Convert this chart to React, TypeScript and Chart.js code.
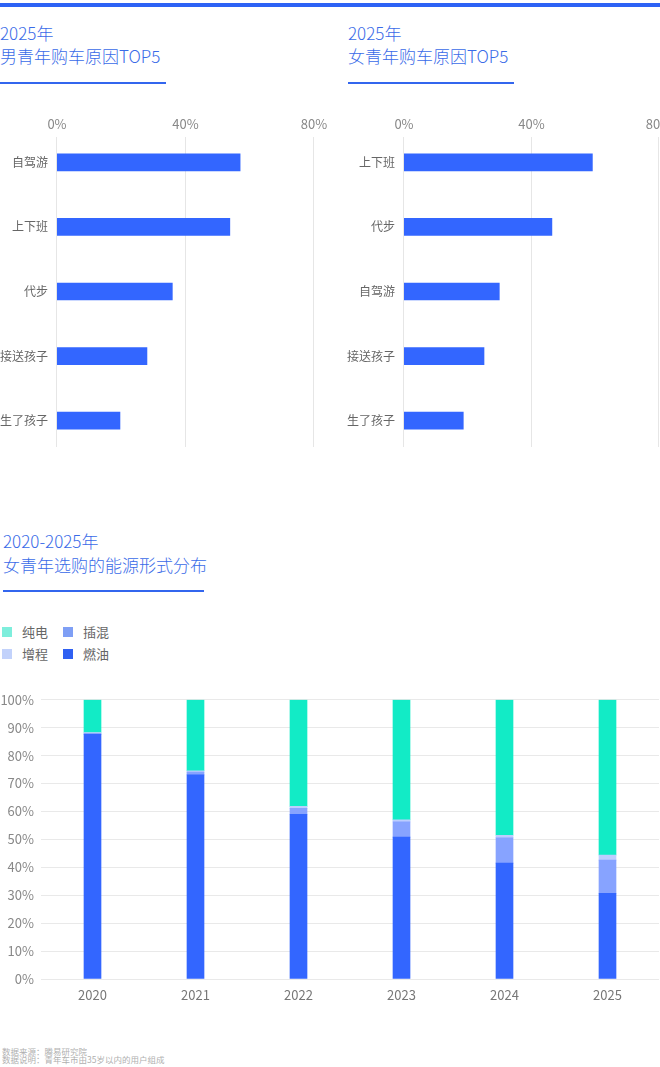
import React, { useEffect, useRef } from "react";
import { Chart, registerables } from "chart.js";

Chart.register(...registerables);

const FONT = '"Noto Sans CJK SC", "Noto Sans", sans-serif';

const maleReasons = ["自驾游", "上下班", "代步", "接送孩子", "生了孩子"];
const maleValues = [57.0, 53.8, 35.9, 28.0, 19.6];
const femaleReasons = ["上下班", "代步", "自驾游", "接送孩子", "生了孩子"];
const femaleValues = [59.1, 46.4, 29.9, 25.1, 18.6];

const years = ["2020", "2021", "2022", "2023", "2024", "2025"];
const fuelValues = [87.6, 73.1, 59.0, 50.8, 41.5, 30.7];
const phevValues = [0.4, 1.0, 2.1, 5.5, 9.1, 11.9];
const erevValues = [0.3, 0.5, 0.7, 0.7, 0.9, 1.8];
const bevValues = [11.7, 25.4, 38.2, 43.0, 48.5, 55.6];

const BLUE = "#3366ff";
const TEAL = "#12ebc6";
const PHEV = "#87a3ff";
const EREV = "#bccdff";
const TITLE_COLOR = "#3a6be8";

const vGridPlugin = {
  id: "vGrid",
  beforeDatasetsDraw(chart: any) {
    const x = chart.scales.x;
    const { top, bottom } = chart.chartArea;
    const ctx = chart.ctx;
    ctx.save();
    ctx.strokeStyle = "#e6e6e6";
    ctx.lineWidth = 1;
    x.ticks.forEach((t: any) => {
      const px = Math.round(x.getPixelForValue(t.value)) - 0.5;
      ctx.beginPath();
      ctx.moveTo(px, top + 7);
      ctx.lineTo(px, bottom - 6);
      ctx.stroke();
    });
    ctx.restore();
  },
};

function HBar({ labels, values, yWidth, padRight }: { labels: string[]; values: number[]; yWidth: number; padRight: number }) {
  const ref = useRef<HTMLCanvasElement>(null);
  useEffect(() => {
    const chart = new Chart(ref.current as HTMLCanvasElement, {
      type: "bar",
      data: {
        labels,
        datasets: [{ data: values, backgroundColor: BLUE, barThickness: 17, borderWidth: 0 }],
      },
      options: {
        indexAxis: "y",
        responsive: false,
        animation: false,
        layout: { padding: { top: 0, right: padRight, bottom: 7, left: 0 } },
        plugins: { legend: { display: false }, tooltip: { enabled: false } },
        scales: {
          x: {
            type: "linear",
            position: "top",
            min: 0,
            max: 80,
            grid: { display: false, drawTicks: false },
            border: { display: false },
            ticks: {
              stepSize: 40,
              padding: -2,
              color: "#888",
              font: { family: FONT, size: 13 },
              callback: (v: any) => v + "%",
            },
            afterFit: (s: any) => {
              s.height = 30;
              s.paddingLeft = 0;
              s.paddingRight = 0;
            },
          },
          y: {
            type: "category",
            grid: { display: false, drawTicks: false },
            border: { display: false },
            ticks: { padding: 9, color: "#666", font: { family: FONT, size: 12 } },
            afterFit: (s: any) => {
              s.width = yWidth;
              s.paddingTop = 0;
              s.paddingBottom = 0;
            },
          },
        },
      } as any,
      plugins: [vGridPlugin],
    });
    return () => chart.destroy();
  }, []);
  return <canvas ref={ref} width={330} height={360} />;
}

function StackedChart() {
  const ref = useRef<HTMLCanvasElement>(null);
  useEffect(() => {
    const chart = new Chart(ref.current as HTMLCanvasElement, {
      type: "bar",
      data: {
        labels: years,
        datasets: [
          { label: "燃油", data: fuelValues, backgroundColor: BLUE, barThickness: 17 },
          { label: "插混", data: phevValues, backgroundColor: PHEV, barThickness: 17 },
          { label: "增程", data: erevValues, backgroundColor: EREV, barThickness: 17 },
          { label: "纯电", data: bevValues, backgroundColor: TEAL, barThickness: 17 },
        ],
      },
      options: {
        responsive: false,
        animation: false,
        layout: { padding: { top: 13, right: 1, bottom: 0, left: 0 } },
        plugins: { legend: { display: false }, tooltip: { enabled: false } },
        scales: {
          x: {
            stacked: true,
            grid: { display: false, drawTicks: false },
            border: { display: false },
            ticks: { padding: 8, color: "#777", font: { family: FONT, size: 13 } },
            afterFit: (s: any) => {
              s.height = 31;
            },
          },
          y: {
            stacked: true,
            min: 0,
            max: 100,
            grid: { color: "#e9e9e9", drawTicks: false },
            border: { display: false },
            ticks: {
              stepSize: 10,
              padding: 7,
              color: "#888",
              font: { family: FONT, size: 13 },
              callback: (v: any) => v + "%",
            },
            afterFit: (s: any) => {
              s.width = 41;
            },
          },
        },
      } as any,
    });
    return () => chart.destroy();
  }, []);
  return <canvas ref={ref} width={660} height={325} />;
}

const legendItems = [
  { label: "纯电", color: "#7eeedc", x: 2, y: 627 },
  { label: "插混", color: "#7f9ff5", x: 63, y: 627 },
  { label: "增程", color: "#c2d2fb", x: 2, y: 649 },
  { label: "燃油", color: "#2f60f2", x: 63, y: 649 },
];

const abs = (o: React.CSSProperties): React.CSSProperties => ({ position: "absolute", ...o });

export default function App() {
  const titleStyle: React.CSSProperties = {
    fontFamily: FONT,
    fontSize: 17,
    lineHeight: "23px",
    color: TITLE_COLOR,
    fontWeight: 300,
    whiteSpace: "nowrap",
  };
  return (
    <div style={abs({ left: 0, top: 0, width: 660, height: 1067, background: "#fff", overflow: "hidden", fontFamily: FONT })}>
      <div style={abs({ left: 0, top: 3, width: 660, height: 4, background: "#2d62f5" })} />

      <div style={abs({ left: 0, top: 21, ...titleStyle })}>
        2025年<br />男青年购车原因TOP5
      </div>
      <div style={abs({ left: 0, top: 82, width: 166, height: 2, background: "#3366ee" })} />

      <div style={abs({ left: 348, top: 21, ...titleStyle })}>
        2025年<br />女青年购车原因TOP5
      </div>
      <div style={abs({ left: 348, top: 82, width: 166, height: 2, background: "#3366ee" })} />

      <div style={abs({ left: 0, top: 100 })}>
        <HBar labels={maleReasons} values={maleValues} yWidth={57} padRight={16} />
      </div>
      <div style={abs({ left: 330, top: 100 })}>
        <HBar labels={femaleReasons} values={femaleValues} yWidth={74} padRight={1} />
      </div>

      <div style={abs({ left: 3, top: 529, ...titleStyle, lineHeight: "24px" })}>
        2020-2025年<br />女青年选购的能源形式分布
      </div>
      <div style={abs({ left: 3, top: 590, width: 201, height: 2, background: "#3366ee" })} />

      {legendItems.map((it) => (
        <React.Fragment key={it.label}>
          <div style={abs({ left: it.x, top: it.y, width: 10, height: 10, background: it.color })} />
          <div style={abs({ left: it.x + 20, top: it.y - 5, fontSize: 13, lineHeight: "20px", color: "#666" })}>{it.label}</div>
        </React.Fragment>
      ))}

      <div style={abs({ left: 0, top: 685 })}>
        <StackedChart />
      </div>

      <div style={abs({ left: 2, top: 1046.5, fontSize: 8.5, lineHeight: "8px", color: "#b0b0b0", whiteSpace: "nowrap" })}>
        数据来源：腾易研究院<br />数据说明：青年车市由35岁以内的用户组成
      </div>
    </div>
  );
}
